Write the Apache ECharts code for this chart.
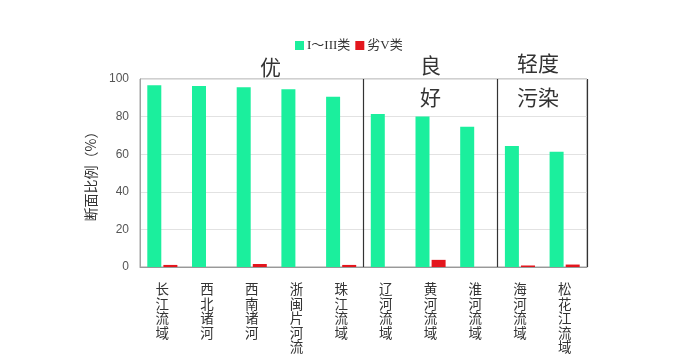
<!DOCTYPE html>
<html>
<head>
    <meta charset="utf-8">
    <title>流域断面比例</title>
    <style>
        body { margin: 0; padding: 0; background: #fff; }
        #main { width: 700px; height: 360px; }
    </style>
</head>
<body>
    <div id="main"></div>
    <script src="https://cdn.jsdelivr.net/npm/echarts@6/dist/echarts.min.js"></script>
    <script>
        var basins = ['长江流域', '西北诸河', '西南诸河', '浙闽片河流', '珠江流域',
            '辽河流域', '黄河流域', '淮河流域', '海河流域', '松花江流域'];
        var goodRatio = [96.7, 96.3, 95.6, 94.5, 90.6, 81.4, 80.0, 74.6, 64.4, 61.3];
        var worstRatio = [1.1, 0, 1.6, 0, 1.1, 0, 3.8, 0, 0.8, 1.3];
        var seriesNames = ['I～III类', '劣V类'];
        var yTicks = [0, 20, 40, 60, 80, 100];

        var chart = echarts.init(document.getElementById('main'));
        var cjk = '"Noto Sans CJK SC", sans-serif';

        var option = {
            animation: false,
            legend: {
                data: seriesNames,
                top: 34,
                left: 290,
                itemWidth: 9,
                itemHeight: 9,
                itemGap: 5,
                icon: 'rect',
                textStyle: { fontSize: 13, color: '#333', fontFamily: '"Liberation Serif", "Noto Sans CJK SC"', padding: [0, 0, 0, -2] }
            },
            grid: {
                left: 140, right: 113, top: 79, bottom: 93,
                show: true, borderColor: '#a0a0a0', borderWidth: 1
            },
            xAxis: {
                type: 'category',
                data: basins,
                axisLine: { lineStyle: { color: '#999' } },
                axisTick: { inside: true, length: 4, interval: 0, lineStyle: { color: '#999' } },
                axisLabel: {
                    interval: 0, margin: 15, color: '#333', fontSize: 13.5, lineHeight: 14.5,
                    fontFamily: cjk,
                    formatter: function (v) { return v.split('').join('\n'); }
                },
                splitLine: {
                    show: true,
                    interval: function (index) { return index === 5 || index === 8; },
                    lineStyle: { color: '#333', width: 1.2 }
                }
            },
            yAxis: {
                type: 'value',
                min: yTicks[0], max: yTicks[yTicks.length - 1], interval: 20,
                name: '断面比例（%）',
                nameLocation: 'middle',
                nameGap: 38,
                nameTextStyle: { fontSize: 14, color: '#333', fontFamily: cjk },
                axisLine: { show: true, lineStyle: { color: '#a0a0a0' } },
                axisTick: { show: false },
                axisLabel: { color: '#555', fontSize: 12, margin: 11 },
                splitLine: { lineStyle: { color: '#e2e2e2' } }
            },
            series: [{
                name: seriesNames[0],
                type: 'bar',
                data: goodRatio,
                barWidth: 14,
                barGap: '15%',
                itemStyle: { color: '#1bef9d' }
            }, {
                name: seriesNames[1],
                type: 'bar',
                data: worstRatio,
                barWidth: 14,
                itemStyle: { color: '#e3161d' }
            }],
            graphic: [
                { type: 'text', left: 260, top: 57, style: { text: '优', font: '21px "Noto Sans CJK SC"', fill: '#333' } },
                { type: 'text', left: 420, top: 55, style: { text: '良', font: '21px "Noto Sans CJK SC"', fill: '#333' } },
                { type: 'text', left: 420, top: 87, style: { text: '好', font: '21px "Noto Sans CJK SC"', fill: '#333' } },
                { type: 'text', left: 517, top: 53, style: { text: '轻度', font: '21px "Noto Sans CJK SC"', fill: '#333' } },
                { type: 'text', left: 517, top: 87, style: { text: '污染', font: '21px "Noto Sans CJK SC"', fill: '#333' } }
            ]
        };

        chart.setOption(option);
    </script>
</body>
</html>
